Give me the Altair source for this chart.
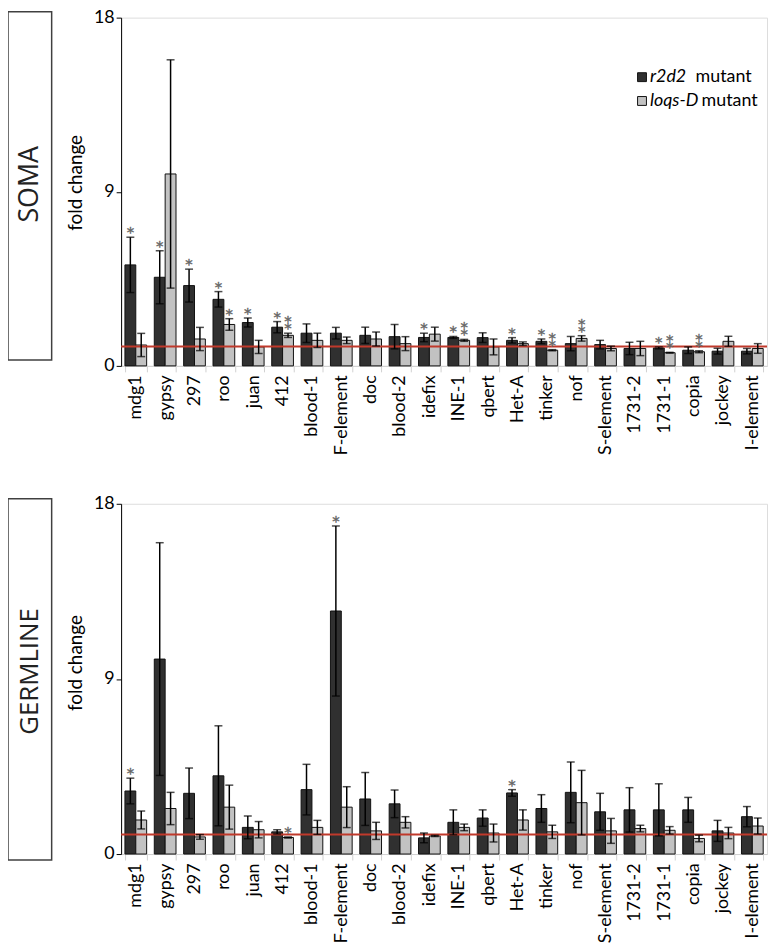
import altair as alt
import pandas as pd

categories = ["mdg1", "gypsy", "297", "roo", "juan", "412", "blood-1", "F-element", "doc",
              "blood-2", "idefix", "INE-1", "qbert", "Het-A", "tinker", "nof", "S-element",
              "1731-2", "1731-1", "copia", "jockey", "I-element"]
genotypes = ["r2d2", "loqs-D"]
panel_titles = ["SOMA", "GERMLINE"]

soma_r2d2 = [5.22, 4.58, 4.15, 3.44, 2.24, 2.00, 1.69, 1.69, 1.58, 1.51, 1.47, 1.47, 1.46, 1.32, 1.27, 1.15, 1.10, 0.90, 0.93, 0.81, 0.76, 0.76]
soma_r2d2_err = [1.43, 1.37, 0.85, 0.40, 0.23, 0.29, 0.48, 0.30, 0.42, 0.63, 0.22, 0.05, 0.25, 0.14, 0.12, 0.37, 0.22, 0.32, 0.05, 0.17, 0.15, 0.14]
soma_loqs = [1.08, 9.92, 1.39, 2.14, 0.98, 1.58, 1.32, 1.32, 1.39, 1.15, 1.64, 1.32, 0.98, 1.15, 0.81, 1.42, 0.90, 0.90, 0.68, 0.73, 1.27, 0.90]
soma_loqs_err = [0.60, 5.90, 0.60, 0.30, 0.34, 0.11, 0.37, 0.17, 0.36, 0.36, 0.36, 0.05, 0.41, 0.09, 0.03, 0.14, 0.12, 0.37, 0.02, 0.05, 0.26, 0.25]
soma_r2d2_stars = [1, 1, 1, 1, 1, 1, 0, 0, 0, 0, 1, 1, 0, 1, 1, 0, 0, 0, 1, 0, 0, 0]
soma_loqs_stars = [0, 0, 0, 1, 0, 2, 0, 0, 0, 0, 0, 2, 0, 0, 2, 2, 0, 0, 2, 2, 0, 0]

germ_r2d2 = [3.24, 10.02, 3.12, 4.02, 1.37, 1.14, 3.31, 12.49, 2.83, 2.58, 0.83, 1.63, 1.85, 3.14, 2.34, 3.17, 2.17, 2.27, 2.27, 2.27, 1.19, 1.92]
germ_r2d2_err = [0.66, 5.98, 1.30, 2.57, 0.59, 0.11, 1.30, 4.37, 1.36, 0.71, 0.25, 0.64, 0.42, 0.17, 0.71, 1.56, 0.95, 1.14, 1.34, 0.64, 0.54, 0.52]
germ_loqs = [1.75, 2.34, 0.88, 2.41, 1.25, 0.85, 1.37, 2.41, 1.19, 1.63, 0.93, 1.37, 1.08, 1.75, 1.14, 2.64, 1.19, 1.31, 1.22, 0.80, 1.08, 1.44]
germ_loqs_err = [0.46, 0.83, 0.12, 1.13, 0.42, 0.03, 0.36, 1.05, 0.44, 0.29, 0.03, 0.17, 0.46, 0.52, 0.34, 1.66, 0.64, 0.17, 0.19, 0.17, 0.29, 0.41]
germ_r2d2_stars = [1, 0, 0, 0, 0, 0, 0, 1, 0, 0, 0, 0, 0, 1, 0, 0, 0, 0, 0, 0, 0, 0]
germ_loqs_stars = [0, 0, 0, 0, 0, 1, 0, 0, 0, 0, 0, 0, 0, 0, 0, 0, 0, 0, 0, 0, 0, 0]

FONT = "Lato"
COLORS = ["#303030", "#c2c2c2"]


def make_df(v1, e1, s1, v2, e2, s2):
    rows = []
    for g, vals, errs, stars in [(genotypes[0], v1, e1, s1), (genotypes[1], v2, e2, s2)]:
        for c, v, e, s in zip(categories, vals, errs, stars):
            rows.append({"te": c, "genotype": g, "value": v, "lo": max(v - e, 0), "hi": v + e, "stars": s})
    return pd.DataFrame(rows)


def panel(df, title, box_y, box_y2, title_y, ytitle_y, title_size, height, legend=False):
    x = alt.X("te:N", sort=categories,
              scale=alt.Scale(paddingInner=0.26, paddingOuter=0.13),
              axis=alt.Axis(title=None, labelAngle=-90, labelFontSize=18, labelColor="black",
                            labelFont=FONT, tickBand="extent", tickColor="#d0d0d0", tickSize=6,
                            domainColor="#d0d0d0", labelPadding=3))
    xo = alt.XOffset("genotype:N", scale=alt.Scale(domain=genotypes, paddingInner=0, paddingOuter=0))
    y_axis = alt.Axis(title="fold change", values=[0, 9, 18], grid=False, domainColor="black",
                      tickColor="black", tickSize=5, labelFontSize=18, labelColor="black",
                      labelFont=FONT, titleFont=FONT, titleFontSize=19, titleFontWeight="normal",
                      titleColor="black", titlePadding=8, titleY=ytitle_y)
    yscale = alt.Scale(domain=[0, 18], nice=False)
    base = alt.Chart(df)
    bars = base.mark_bar(stroke="#111", strokeWidth=1).encode(
        x=x, xOffset=xo,
        y=alt.Y("value:Q", scale=yscale, axis=y_axis),
        color=alt.Color("genotype:N", scale=alt.Scale(domain=genotypes, range=COLORS), legend=None),
    )
    ref = alt.Chart(pd.DataFrame({"value": [1]})).mark_rule(color="#c0392b", strokeWidth=2).encode(
        y=alt.Y("value:Q", scale=yscale))
    err = base.mark_rule(color="black", strokeWidth=1.5).encode(
        x=x, xOffset=xo, y=alt.Y("lo:Q", scale=yscale), y2="hi:Q")
    cap_hi = base.mark_tick(color="black", size=8, thickness=1.5, orient="horizontal").encode(
        x=x, xOffset=xo, y=alt.Y("hi:Q", scale=yscale))
    cap_lo = base.mark_tick(color="black", size=8, thickness=1.5, orient="horizontal").encode(
        x=x, xOffset=xo, y=alt.Y("lo:Q", scale=yscale))
    star1 = base.transform_filter("datum.stars >= 1").mark_text(
        text="*", fontSize=15, baseline="alphabetic", dy=0, font="DejaVu Sans",
        stroke="#666666", strokeWidth=0.4).encode(
        x=x, xOffset=xo, y=alt.Y("hi:Q", scale=yscale), color=alt.value("#666666"))
    star2 = base.transform_filter("datum.stars >= 2").mark_text(
        text="*", fontSize=15, baseline="alphabetic", dy=-7, font="DejaVu Sans",
        stroke="#666666", strokeWidth=0.4).encode(
        x=x, xOffset=xo, y=alt.Y("hi:Q", scale=yscale), color=alt.value("#666666"))
    tdf = pd.DataFrame({"t": [title]})
    box = alt.Chart(tdf).mark_rect(fill="white", stroke="#404040", strokeWidth=1.5).encode(
        x=alt.value(-114), x2=alt.value(-70), y=alt.value(box_y), y2=alt.value(box_y2))
    box_text = alt.Chart(tdf).mark_text(angle=270, fontSize=title_size, font="Open Sans").encode(
        text="t:N", x=alt.value(-92), y=alt.value(title_y), color=alt.value("#222222"))
    layers = [box, box_text, bars, ref, err, cap_hi, cap_lo, star1, star2]
    if legend:
        mut_x = [579, 585]
        for i, g in enumerate(genotypes):
            gdf = pd.DataFrame({"g": [g], "m": ["mutant"]})
            ly = 60 + 24 * i
            sq = alt.Chart(gdf).mark_square(size=80, stroke="#111", strokeWidth=1, opacity=1).encode(
                x=alt.value(525), y=alt.value(ly), color=alt.value(COLORS[i]))
            it = alt.Chart(gdf).mark_text(fontSize=18, fontStyle="italic", align="left", baseline="middle",
                                          font=FONT).encode(
                text="g:N", x=alt.value(533), y=alt.value(ly), color=alt.value("black"))
            mt = alt.Chart(gdf).mark_text(fontSize=18, align="left", baseline="middle", font=FONT).encode(
                text="m:N", x=alt.value(mut_x[i]), y=alt.value(ly), color=alt.value("black"))
            layers += [sq, it, mt]
    return alt.layer(*layers).properties(width=651, height=height)


soma_df = make_df(soma_r2d2, soma_r2d2_err, soma_r2d2_stars, soma_loqs, soma_loqs_err, soma_loqs_stars)
germ_df = make_df(germ_r2d2, germ_r2d2_err, germ_r2d2_stars, germ_loqs, germ_loqs_err, germ_loqs_stars)

top = panel(soma_df, panel_titles[0], -6, 345, 168, 166, 27, 351, legend=True)
bottom = panel(germ_df, panel_titles[1], -5, 359, 169, 160, 26, 353)

chart = alt.vconcat(top, bottom, spacing=38).properties(
    padding={"left": -2, "top": -4, "right": 0, "bottom": 0}
).configure_view(stroke=None).configure(font=FONT)

chart.save("out.html", embed_options={"renderer": "svg", "actions": False})
